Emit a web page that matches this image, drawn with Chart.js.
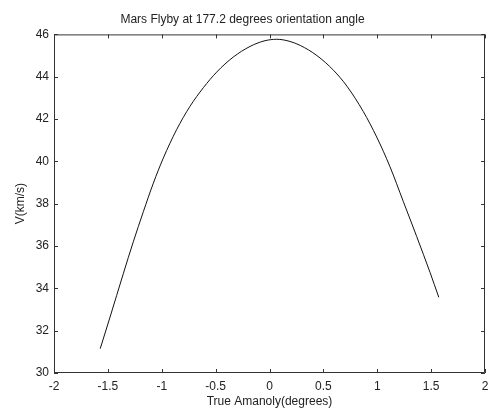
<!DOCTYPE html>
<html>
<head>
<meta charset="utf-8">
<script src="https://cdn.jsdelivr.net/npm/chart.js@4.4.0/dist/chart.umd.min.js"></script>
<style>
  html, body { margin: 0; padding: 0; background: #fff; }
  #wrap { width: 488px; height: 410px; }
</style>
</head>
<body>
<div id="wrap"><canvas id="flybyChart" width="488" height="410"></canvas></div>
<script>
// データ
const anomaly = [-1.571, -1.480, -1.357, -1.264, -1.171, -1.078, -0.986, -0.862, -0.738, -0.614, -0.490, -0.336,
                 -0.181, -0.051, 0.067, 0.181, 0.285, 0.440, 0.595, 0.719, 0.871, 0.995, 1.118, 1.242,
                 1.366, 1.490, 1.571];
const velocity = [31.15, 32.64, 34.69, 36.20, 37.62, 38.97, 40.15, 41.50, 42.60, 43.48, 44.22, 44.93,
                  45.43, 45.69, 45.77, 45.68, 45.48, 45.00, 44.30, 43.55, 42.35, 41.15, 39.75, 38.10,
                  36.45, 34.75, 33.58];
const xTicks = [-2, -1.5, -1, -0.5, 0, 0.5, 1, 1.5, 2];
const yTicks = [30, 32, 34, 36, 38, 40, 42, 44, 46];

const points = anomaly.map((x, i) => ({ x: x, y: velocity[i] }));

// MATLAB風の枠と内向き目盛り
const boxTicks = {
    id: 'boxTicks',
    afterDatasetsDraw(chart) {
        const { ctx, chartArea: a, scales } = chart;
        const len = 4;
        ctx.save();
        ctx.strokeStyle = '#333';
        ctx.lineWidth = 1;
        ctx.beginPath();
        ctx.rect(a.left + 0.5, a.top + 0.5, a.right - a.left - 1, a.bottom - a.top - 1);
        xTicks.forEach(v => {
            const px = Math.round(scales.x.getPixelForValue(v)) + 0.5;
            ctx.moveTo(px, a.bottom); ctx.lineTo(px, a.bottom - len);
            ctx.moveTo(px, a.top); ctx.lineTo(px, a.top + len);
        });
        yTicks.forEach(v => {
            const py = Math.round(scales.y.getPixelForValue(v)) + 0.5;
            ctx.moveTo(a.left, py); ctx.lineTo(a.left + len, py);
            ctx.moveTo(a.right, py); ctx.lineTo(a.right - len, py);
        });
        ctx.stroke();
        ctx.restore();
    }
};

const font = { family: '"Liberation Sans", Arial, sans-serif', size: 12 };

new Chart(document.getElementById('flybyChart').getContext('2d'), {
    type: 'line',
    data: {
        datasets: [{
            label: 'V',
            data: points,
            borderColor: '#111',
            borderWidth: 1,
            pointRadius: 0,
            fill: false,
            cubicInterpolationMode: 'monotone'
        }]
    },
    options: {
        responsive: false,
        animation: false,
        layout: { padding: { top: 0, right: 3, bottom: 0, left: 0 } },
        plugins: {
            legend: { display: false },
            tooltip: { enabled: false },
            title: {
                display: true,
                text: 'Mars Flyby at 177.2 degrees orientation angle',
                color: '#222',
                font: { family: font.family, size: 12, weight: 'normal' },
                padding: { top: 12, bottom: 8 }
            }
        },
        scales: {
            x: {
                type: 'linear',
                min: -2,
                max: 2,
                afterFit(scale) {
                    scale.height = 37;
                    scale.paddingLeft = 0;
                    scale.paddingRight = 0;
                },
                afterBuildTicks(scale) { scale.ticks = xTicks.map(v => ({ value: v })); },
                grid: { display: false, drawTicks: false },
                border: { display: false },
                ticks: {
                    color: '#222', font: font, padding: 6, maxRotation: 0, autoSkip: false,
                    callback: v => String(v)
                },
                title: {
                    display: true,
                    text: 'True Amanoly(degrees)',
                    color: '#222',
                    font: font,
                    padding: { top: 0, bottom: 1 }
                }
            },
            y: {
                type: 'linear',
                min: 30,
                max: 46,
                afterFit(scale) {
                    scale.width = 54;
                    scale.paddingTop = 0;
                    scale.paddingBottom = 0;
                },
                afterBuildTicks(scale) { scale.ticks = yTicks.map(v => ({ value: v })); },
                grid: { display: false, drawTicks: false },
                border: { display: false },
                ticks: { color: '#222', font: font, padding: 5, autoSkip: false, callback: v => String(v) },
                title: {
                    display: true,
                    text: 'V(km/s)',
                    color: '#222',
                    font: font,
                    padding: { top: 13, bottom: 0 }
                }
            }
        }
    },
    plugins: [boxTicks]
});
</script>
</body>
</html>
